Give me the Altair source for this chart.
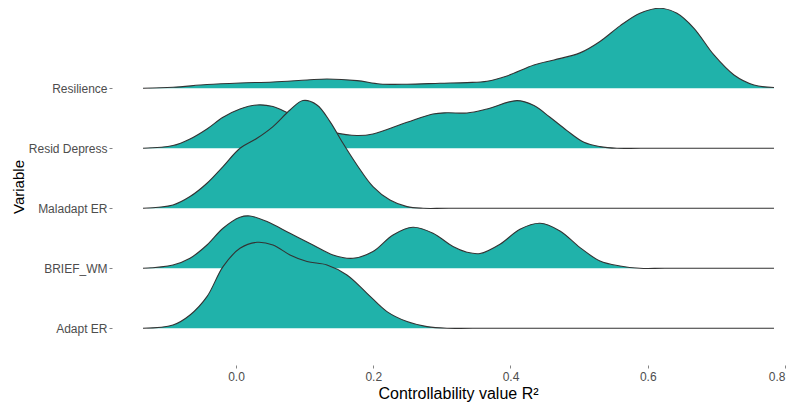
import json
import altair as alt
import pandas as pd

# Categories, bottom row first
variables = ["Adapt ER", "BRIEF_WM", "Maladapt ER", "Resid Depress", "Resilience"]

# Density curves (x = controllability value, d = ridge height in row units)
resilience_x = [-0.1355, -0.0918, -0.0423, 0.0058, 0.0539, 0.1035, 0.1326, 0.1763, 0.2098,
                0.2492, 0.2973, 0.3366, 0.3658, 0.3949, 0.4342, 0.4634, 0.5013, 0.5304,
                0.5596, 0.5887, 0.6178, 0.6426, 0.6674, 0.6965, 0.7257, 0.7548, 0.7840]
resilience_d = [0, 0.017, 0.062, 0.088, 0.105, 0.138, 0.155, 0.128, 0.072,
                0.067, 0.083, 0.095, 0.117, 0.205, 0.388, 0.472, 0.590, 0.780,
                1.040, 1.250, 1.333, 1.250, 1.000, 0.555, 0.222, 0.055, 0.012]

resid_x = [-0.1355, -0.0918, -0.0670, -0.0423, -0.0189, 0.0058, 0.0306, 0.0539, 0.0787,
           0.1035, 0.1224, 0.1413, 0.1763, 0.1996, 0.2492, 0.2871, 0.3075, 0.3366,
           0.3658, 0.4095, 0.4342, 0.4576, 0.4823, 0.5071, 0.5304, 0.5552, 0.5900, 0.7840]
resid_d = [0, 0.045, 0.155, 0.322, 0.517, 0.655, 0.722, 0.695, 0.572,
           0.450, 0.333, 0.267, 0.212, 0.238, 0.433, 0.572, 0.592, 0.588,
           0.655, 0.795, 0.712, 0.517, 0.295, 0.100, 0.028, 0, 0, 0]

maladapt_x = [-0.1355, -0.0918, -0.0670, -0.0423, -0.0189, 0.0058, 0.0306, 0.0539, 0.0787,
              0.0976, 0.1180, 0.1370, 0.1559, 0.1763, 0.1996, 0.2244, 0.2492, 0.2725,
              0.3100, 0.7840]
maladapt_d = [0, 0.055, 0.195, 0.417, 0.695, 1.000, 1.167, 1.362, 1.638,
              1.795, 1.722, 1.445, 1.083, 0.722, 0.362, 0.138, 0.028, 0,
              0, 0]

brief_x = [-0.1355, -0.0918, -0.0670, -0.0423, -0.0189, 0.0058, 0.0204, 0.0452, 0.0787,
           0.1122, 0.1413, 0.1705, 0.1996, 0.2288, 0.2579, 0.2871, 0.3162, 0.3366,
           0.3556, 0.3847, 0.4138, 0.4430, 0.4721, 0.5013, 0.5304, 0.5596, 0.5887,
           0.6250, 0.7840]
brief_d = [0, 0.055, 0.167, 0.388, 0.667, 0.850, 0.872, 0.778, 0.583,
           0.388, 0.222, 0.167, 0.278, 0.555, 0.683, 0.583, 0.362, 0.267,
           0.245, 0.400, 0.650, 0.750, 0.622, 0.345, 0.122, 0.038, 0,
           0, 0]

adapt_x = [-0.1355, -0.0918, -0.0670, -0.0423, -0.0189, 0.0058, 0.0306, 0.0539, 0.0787,
           0.1035, 0.1326, 0.1617, 0.1909, 0.2200, 0.2492, 0.2783, 0.3075, 0.3450, 0.7840]
adapt_d = [0, 0.055, 0.222, 0.528, 1.028, 1.333, 1.433, 1.388, 1.222,
           1.112, 1.055, 0.888, 0.583, 0.278, 0.112, 0.028, 0, 0, 0]

x_ticks = [0.0, 0.2, 0.4, 0.6, 0.8]

# drawing order: top ridge first, lower ridges painted over it
series = [
    ("Resilience", resilience_x, resilience_d),
    ("Resid Depress", resid_x, resid_d),
    ("Maladapt ER", maladapt_x, maladapt_d),
    ("BRIEF_WM", brief_x, brief_d),
    ("Adapt ER", adapt_x, adapt_d),
]

records = []
for name, xs, ds in series:
    r = variables.index(name)
    for xv, dv in zip(xs, ds):
        records.append({"variable": name, "row": r, "x": xv, "density": dv, "top": r + dv})
df = pd.DataFrame(records)

FONT = "Liberation Sans"
FILL = "#20B2AA"
LINE = "#333333"
CURVE = "catmull-rom"

x_enc = alt.X(
    "x:Q",
    scale=alt.Scale(domain=[-0.1807, 0.8015], nice=False, zero=False),
    axis=alt.Axis(
        values=x_ticks, format=".1f", title="Controllability value R²",
        grid=False, domain=False, tickSize=3, tickColor=LINE, tickWidth=0.6,
        labelPadding=3, labelFontSize=12, labelColor="#4D4D4D", labelFont=FONT,
        labelFlush=2,
        titleFont=FONT, titleFontSize=16, titleColor="#000000", titleFontWeight="normal",
        titleX=346, titleY=33, titleBaseline="alphabetic",
    ),
)
y_enc = alt.Y(
    "top:Q",
    scale=alt.Scale(domain=[-0.612, 5.338], nice=False, zero=False),
    axis=alt.Axis(
        values=list(range(len(variables))),
        labelExpr=json.dumps(variables) + "[datum.value]",
        title="Variable", grid=False, domain=False, tickSize=3, tickColor=LINE,
        tickWidth=0.6, labelPadding=2, labelFontSize=12, labelColor="#4D4D4D",
        labelFont=FONT, titleFont=FONT, titleFontSize=15, titleColor="#000000",
        titleFontWeight="normal", titleAngle=270, titleX=-89, titleBaseline="alphabetic",
    ),
)
y2_enc = alt.Y2("row:Q")

base = alt.Chart(df)
layers = []
for name, _, _ in series:
    sub = base.transform_filter(alt.datum.variable == name)
    layers.append(
        sub.mark_area(color=FILL, opacity=1, interpolate=CURVE).encode(
            x=x_enc, y=y_enc, y2=y2_enc)
    )
    layers.append(
        sub.mark_line(color=LINE, strokeWidth=1.1, interpolate=CURVE).encode(
            x=x_enc, y=y_enc)
    )

chart = alt.layer(*layers).properties(
    width=674,
    height=357,
    autosize=alt.AutoSizeParams(type="none"),
    padding={"left": 104, "top": 0, "right": 0, "bottom": 37},
    background="white",
).configure_view(stroke=None)

chart.save("out.html", embed_options={"renderer": "svg", "actions": False})
